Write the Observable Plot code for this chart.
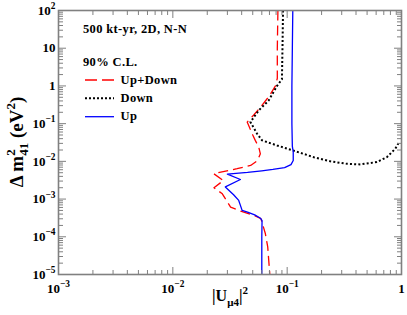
<!DOCTYPE html>
<html>
<head>
<meta charset="utf-8">
<script src="https://cdn.jsdelivr.net/npm/d3@7"></script>
<script src="https://cdn.jsdelivr.net/npm/@observablehq/plot@0.6"></script>
<style>
  html, body { margin: 0; padding: 0; background: #fff; }
  #chart svg { display: block; }
</style>
</head>
<body>
<div id="chart"></div>
<script>
// ---- Data ----
// Up (blue, solid)
const upU  = [0.112, 0.111, 0.110, 0.110, 0.111, 0.113, 0.113, 0.108, 0.095, 0.075, 0.060, 0.045, 0.030, 0.039, 0.0288, 0.034, 0.0377, 0.039, 0.0404, 0.045, 0.052, 0.0585, 0.0603, 0.0600, 0.0600];
const upDm = [100, 10, 1, 0.1, 0.025, 0.018, 0.0105, 0.0082, 0.0068, 0.0061, 0.0056, 0.0051, 0.0046, 0.0033, 0.0021, 0.0013, 0.00092, 0.00068, 0.0005, 0.00045, 0.00038, 0.00031, 0.00027, 0.0001, 0.00001];
// Up+Down (red, dashed)
const bothU  = [0.083, 0.082, 0.082, 0.079, 0.070, 0.0583, 0.051, 0.0447, 0.050, 0.0526, 0.0564, 0.0583, 0.055, 0.0479, 0.0365, 0.0228, 0.0277, 0.0229, 0.0271, 0.032, 0.0392, 0.0513, 0.0590, 0.0645, 0.0676, 0.0705];
const bothDm = [100, 10, 1.6, 1.0, 0.55, 0.27, 0.17, 0.11, 0.05, 0.036, 0.024, 0.0158, 0.0105, 0.0078, 0.0064, 0.0047, 0.0031, 0.0020, 0.00138, 0.00061, 0.00048, 0.00037, 0.00030, 0.00012, 0.000054, 0.00001];
// Down (black, dotted)
const downU  = [0.092, 0.091, 0.090, 0.0815, 0.0689, 0.0564, 0.0477, 0.0546, 0.0603, 0.0815, 0.114, 0.171, 0.239, 0.334, 0.437, 0.61, 0.747, 0.883, 0.95];
const downDm = [100, 10, 1.5, 1.0, 0.41, 0.224, 0.11, 0.054, 0.036, 0.0264, 0.0192, 0.0129, 0.0100, 0.0086, 0.0083, 0.0096, 0.013, 0.0216, 0.032];

// Ticks and labels
const xMajor = [1e-3, 1e-2, 1e-1, 1];
const xTickLabels = ["10^{\u22123}", "10^{\u22122}", "10^{\u22121}", "1"];
const yMajor = [1e-5, 1e-4, 1e-3, 1e-2, 1e-1, 1, 10, 100];
const yTickLabels = ["10^{\u22125}", "10^{\u22124}", "10^{\u22123}", "10^{\u22122}", "10^{\u22121}", "1", "10", "10^{2}"];
const legendLabels = ["Up+Down", "Down", "Up"];
const legendColors = ["#ff0000", "#000000", "#0000ff"];
const legendDash = ["12,5", "2,2", null];
const annotation1 = "500 kt-yr, 2D, N-N";
const annotation2 = "90% C.L.";

// ---- Build tables ----
const toRows = (U, D) => U.map((u, i) => ({u, dm: D[i]}));
const upData = toRows(upU, upDm);
const bothData = toRows(bothU, bothDm);
const downData = toRows(downU, downDm);

const minorOf = (majors) => {
  const out = [];
  for (let i = 0; i < majors.length - 1; i++)
    for (let k = 2; k <= 9; k++) out.push(majors[i] * k);
  return out;
};
const xMinor = minorOf(xMajor);
const yMinor = minorOf(yMajor);

const FONT = "'Liberation Serif', 'Times New Roman', Times, serif";
const GREY = "#808080";

const plot = Plot.plot({
  width: 407,
  height: 315,
  marginLeft: 58,
  marginRight: 6,
  marginTop: 10,
  marginBottom: 41,
  x: {type: "log", domain: [1e-3, 1]},
  y: {type: "log", domain: [1e-5, 100]},
  style: {fontFamily: FONT, fontWeight: "bold", background: "#fff", color: "#000", overflow: "visible"},
  marks: [
    Plot.line(bothData, {x: "u", y: "dm", stroke: "#ff0000", strokeWidth: 1.3, strokeDasharray: "10,5", strokeLinecap: "butt", clip: true}),
    Plot.line(downData, {x: "u", y: "dm", stroke: "#000000", strokeWidth: 2, strokeDasharray: "2,2.2", strokeLinecap: "butt", clip: true}),
    Plot.line(upData, {x: "u", y: "dm", stroke: "#0000ff", strokeWidth: 1.3, clip: true}),
    // inward ticks on all four sides
    Plot.axisX(xMajor, {anchor: "bottom", tickSize: -7, fill: "none", stroke: GREY, label: null}),
    Plot.axisX(xMinor, {anchor: "bottom", tickSize: -4, fill: "none", stroke: GREY, label: null}),
    Plot.axisX(xMajor, {anchor: "top", tickSize: -7, fill: "none", stroke: GREY, label: null}),
    Plot.axisX(xMinor, {anchor: "top", tickSize: -4, fill: "none", stroke: GREY, label: null}),
    Plot.axisY(yMajor, {anchor: "left", tickSize: -8, fill: "none", stroke: GREY, label: null}),
    Plot.axisY(yMinor, {anchor: "left", tickSize: -5, fill: "none", stroke: GREY, label: null}),
    Plot.axisY(yMajor, {anchor: "right", tickSize: -8, fill: "none", stroke: GREY, label: null}),
    Plot.axisY(yMinor, {anchor: "right", tickSize: -5, fill: "none", stroke: GREY, label: null}),
    // tick labels
    Plot.axisX(xMajor, {anchor: "bottom", tickSize: 0, tickPadding: 9, fontSize: 13,
      tickFormat: d => xTickLabels[xMajor.indexOf(d)], label: null}),
    Plot.axisY(yMajor, {anchor: "left", tickSize: 0, tickPadding: 3, fontSize: 13,
      tickFormat: d => yTickLabels[yMajor.indexOf(d)], label: null}),
    Plot.frame({stroke: GREY, strokeWidth: 1.6})
  ]
});

document.getElementById("chart").appendChild(plot);

// ---- rich text (superscripts / subscripts) ----
function setRich(textEl, str, baseSize) {
  const sel = d3.select(textEl);
  sel.text(null);
  let shift = 0;
  for (const tok of str.split(/(\^\{[^}]*\}|_\{[^}]*\})/)) {
    if (!tok) continue;
    let target = 0, size = baseSize, t = tok;
    if (tok.startsWith("^{")) { target = -0.42 * baseSize; size = 0.72 * baseSize; t = tok.slice(2, -1); }
    else if (tok.startsWith("_{")) { target = 0.28 * baseSize; size = 0.72 * baseSize; t = tok.slice(2, -1); }
    sel.append("tspan").attr("dy", target - shift).attr("font-size", size).text(t);
    shift = target;
  }
}

const svg = d3.select(plot);
svg.selectAll("text").each(function () {
  const s = this.textContent;
  if (/[\^_]\{/.test(s)) setRich(this, s, 13);
});

// ---- annotations & legend ----
const g = svg.append("g").attr("font-family", FONT).attr("font-weight", "bold").attr("fill", "#000")
  .attr("text-anchor", "start");
g.append("text").attr("x", 83).attr("y", 33.3).attr("font-size", 12.5).attr("letter-spacing", 0.35).text(annotation1);
g.append("text").attr("x", 83).attr("y", 65.7).attr("font-size", 12.5).attr("letter-spacing", 0.35).text(annotation2);
const legendY = [80, 98.3, 116.7];
legendLabels.forEach((lab, i) => {
  const ln = g.append("line").attr("x1", 85).attr("x2", 114).attr("y1", legendY[i]).attr("y2", legendY[i])
    .attr("stroke", legendColors[i]).attr("stroke-width", i === 1 ? 2 : 1.3).attr("stroke-linecap", "butt");
  if (legendDash[i]) ln.attr("stroke-dasharray", legendDash[i]);
  g.append("text").attr("x", 120.5).attr("y", legendY[i] + 3.5).attr("font-size", 12.5).attr("letter-spacing", 0.35).text(lab);
});

// x axis title: |U_{μ4}|^2
const xt = g.append("text").attr("x", 230).attr("y", 301).attr("text-anchor", "middle").attr("font-size", 16);
xt.append("tspan").text("|U");
xt.append("tspan").attr("font-size", 11).attr("dy", 4.5).text("\u03bc4");
xt.append("tspan").attr("dy", -4.5).text("|");
xt.append("tspan").attr("font-size", 11).attr("dy", -7).text("2");

// y axis title: Δ m^2_41 (eV^2)
const yt = g.append("text").attr("transform", "translate(23,142) rotate(-90)").attr("text-anchor", "middle").attr("font-size", 19);
yt.append("tspan").text("\u0394 m");
yt.append("tspan").attr("font-size", 13).attr("dy", -8).text("2");
yt.append("tspan").attr("font-size", 13).attr("dx", -6.5).attr("dy", 13).text("41");
yt.append("tspan").attr("dy", -5).text(" (eV");
yt.append("tspan").attr("font-size", 13).attr("dy", -8).text("2");
yt.append("tspan").attr("dy", 8).text(")");
</script>
</body>
</html>
